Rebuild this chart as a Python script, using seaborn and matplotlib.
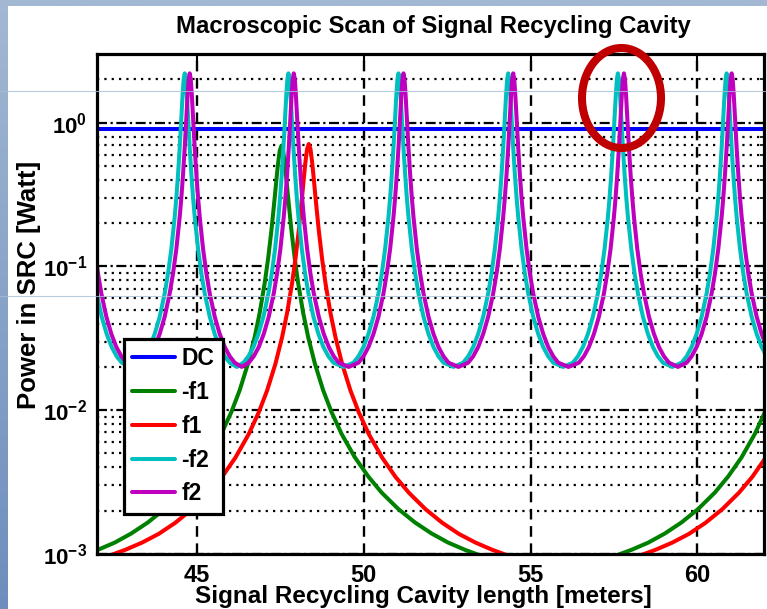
import numpy as np
import pandas as pd
import matplotlib
matplotlib.use("Agg")
import matplotlib.pyplot as plt
from matplotlib.patches import Ellipse, Rectangle
from matplotlib.lines import Line2D
from matplotlib.ticker import FixedLocator, FixedFormatter, LogLocator, NullFormatter
import seaborn as sns

# ---------------- data ----------------
SERIES = ["DC", "-f1", "f1", "-f2", "f2"]
COLORS = ["#0000FF", "#008000", "#FF0000", "#00BFBF", "#BF00BF"]

# carrier (DC) power, flat across the scan
DC_L = [42.0, 62.0]
DC_P = [0.9, 0.9]

# f2 sidebands: resonance profile around each peak (offset [m] -> power [W])
F2_HALF_OFFSETS = [0.0, 0.03, 0.06, 0.10, 0.15, 0.20, 0.25, 0.30, 0.40, 0.50,
                   0.60, 0.75, 0.90, 1.05, 1.20, 1.35]
F2_HALF_POWER = [2.2, 2.014, 1.607, 1.088, 0.669, 0.436, 0.302, 0.221, 0.1326,
                 0.0892, 0.0649, 0.0447, 0.0339, 0.0275, 0.0237, 0.0214]
NEG_F2_PEAKS = [41.39, 44.63, 47.74, 51.04, 54.33, 57.62, 60.88]
POS_F2_PEAKS = [41.53, 44.78, 47.90, 51.19, 54.48, 57.80, 61.03]
NEG_F2_TROUGHS = [43.01, 46.19, 49.39, 52.69, 55.98, 59.25]
POS_F2_TROUGHS = [43.16, 46.34, 49.55, 52.84, 56.14, 59.42]
F2_FLOOR = 0.020

# f1 sidebands: broad resonances, one period spans ~16 m
F1_HALF_OFFSETS = [0.0, 0.05, 0.10, 0.15, 0.20, 0.30, 0.40, 0.50, 0.65, 0.80,
                   1.00, 1.25, 1.50, 1.80, 2.20, 2.60, 3.00, 3.50, 4.00, 4.50,
                   5.00, 5.50, 6.00, 6.50, 7.00]
NEG_F1_HALF_POWER = [0.69, 0.639, 0.523, 0.401, 0.303, 0.178, 0.1129, 0.0769,
                     0.0478, 0.0324, 0.0212, 0.0138, 0.00973, 0.00687, 0.00471,
                     0.00347, 0.00268, 0.00206, 0.00166, 0.00139, 0.00120,
                     0.00107, 0.00097, 0.00091, 0.00086]
POS_F1_HALF_POWER = [0.71, 0.656, 0.533, 0.407, 0.305, 0.178, 0.1127, 0.0766,
                     0.0475, 0.0322, 0.0210, 0.0137, 0.00966, 0.00682, 0.00468,
                     0.00344, 0.00267, 0.00205, 0.00165, 0.00138, 0.00120,
                     0.00107, 0.00097, 0.00091, 0.00086]
NEG_F1_PEAKS = [47.53, 63.53]
POS_F1_PEAKS = [48.35, 64.25]
NEG_F1_TROUGHS = [55.53]
POS_F1_TROUGHS = [56.30]
F1_FLOOR = 0.00083

X_TICKS = [45, 50, 55, 60]
X_TICK_LABELS = ["45", "50", "55", "60"]
Y_TICKS = [1e-3, 1e-2, 1e-1, 1e0]
Y_TICK_LABELS = [r"$\mathbf{10^{-3}}$", r"$\mathbf{10^{-2}}$",
                 r"$\mathbf{10^{-1}}$", r"$\mathbf{10^{0}}$"]


def mirrored(half_offsets, half_power):
    offs = [-d for d in reversed(half_offsets[1:])] + list(half_offsets)
    pw = list(reversed(half_power[1:])) + list(half_power)
    return offs, pw


def resonance_trace(peaks, half_offsets, half_power, troughs, floor):
    offs, pw = mirrored(half_offsets, half_power)
    xs = [p + d for p in peaks for d in offs] + list(troughs)
    ys = [v for _ in peaks for v in pw] + [floor] * len(troughs)
    order = np.argsort(xs)
    return np.asarray(xs)[order], np.asarray(ys)[order]


traces = [
    (np.asarray(DC_L), np.asarray(DC_P)),
    resonance_trace(NEG_F1_PEAKS, F1_HALF_OFFSETS, NEG_F1_HALF_POWER, NEG_F1_TROUGHS, F1_FLOOR),
    resonance_trace(POS_F1_PEAKS, F1_HALF_OFFSETS, POS_F1_HALF_POWER, POS_F1_TROUGHS, F1_FLOOR),
    resonance_trace(NEG_F2_PEAKS, F2_HALF_OFFSETS, F2_HALF_POWER, NEG_F2_TROUGHS, F2_FLOOR),
    resonance_trace(POS_F2_PEAKS, F2_HALF_OFFSETS, F2_HALF_POWER, POS_F2_TROUGHS, F2_FLOOR),
]
df = pd.concat(
    [pd.DataFrame({"L": x, "P": p, "series": name}) for name, (x, p) in zip(SERIES, traces)],
    ignore_index=True,
)

# ---------------- style ----------------
sns.set_theme(style="white")
plt.rcParams["font.family"] = ["Liberation Sans", "DejaVu Sans"]
plt.rcParams["font.weight"] = "bold"
plt.rcParams["text.color"] = "black"
plt.rcParams["axes.labelcolor"] = "black"
plt.rcParams["xtick.color"] = "black"
plt.rcParams["ytick.color"] = "black"
plt.rcParams["mathtext.fontset"] = "custom"
plt.rcParams["mathtext.rm"] = "Liberation Sans"
plt.rcParams["mathtext.bf"] = "Liberation Sans:bold"

W, H = 767, 609
fig = plt.figure(figsize=(W / 100, H / 100), dpi=100)

# slide backdrop: blue gradient with a white panel
bg = fig.add_axes([0, 0, 1, 1], zorder=-10)
grad = np.linspace(0, 1, 256)[:, None]
bg.imshow(grad, aspect="auto", extent=[0, 1, 0, 1],
          cmap=matplotlib.colors.LinearSegmentedColormap.from_list("slide", ["#a3b8d2", "#6d8ebd"]))
bg.add_patch(Rectangle((8 / W, 0), 1, 1 - 6 / H, transform=bg.transAxes,
                       facecolor="white", edgecolor="none"))
bg.set_xlim(0, 1)
bg.set_ylim(0, 1)
bg.axis("off")

ax = fig.add_axes([97 / W, 55 / H, 667 / W, 500 / H])
ax.set_facecolor("white")

sns.lineplot(data=df, x="L", y="P", hue="series", hue_order=SERIES,
             palette=COLORS, linewidth=2.9, estimator=None, sort=True,
             legend=False, ax=ax)

ax.set_yscale("log")
ax.set_xlim(42, 62)
ax.set_ylim(1e-3, 3)

ax.xaxis.set_major_locator(FixedLocator(X_TICKS))
ax.xaxis.set_major_formatter(FixedFormatter(X_TICK_LABELS))
ax.yaxis.set_major_locator(FixedLocator(Y_TICKS))
ax.yaxis.set_major_formatter(FixedFormatter(Y_TICK_LABELS))
ax.yaxis.set_minor_locator(LogLocator(base=10, subs=np.arange(2, 10)))
ax.yaxis.set_minor_formatter(NullFormatter())

ax.set_axisbelow(True)
ax.grid(True, which="major", axis="x", color="black", linewidth=1.7,
        linestyle=(0, (4.5, 2.8)))
ax.grid(True, which="major", axis="y", color="black", linewidth=1.6,
        linestyle=(0, (4.5, 1.6, 1.0, 1.6)))
ax.grid(True, which="minor", axis="y", color="black", linewidth=1.6,
        linestyle=(0, (1.0, 2.3)))

ax.tick_params(axis="both", which="major", direction="in", length=6, width=1.5,
               top=True, right=True, colors="black")
ax.tick_params(axis="x", which="major", pad=7, labelsize=17)
ax.tick_params(axis="y", which="major", pad=7, labelsize=16)
ax.tick_params(axis="y", which="minor", direction="in", length=3, width=1.2, right=True)
for lab in ax.get_xticklabels() + ax.get_yticklabels():
    lab.set_fontweight("bold")

for side in ax.spines.values():
    side.set_visible(True)
    side.set_color("black")
    side.set_linewidth(2.3)

ax.set_xlabel("")
ax.set_ylabel("")
fig.text(433 / W, 1 - 27 / H, "Macroscopic Scan of Signal Recycling Cavity",
         ha="center", va="center", fontsize=17.2, fontweight="bold")
fig.text(423 / W, 1 - 596 / H, "Signal Recycling Cavity length [meters]",
         ha="center", va="center", fontsize=17.5, fontweight="bold")
fig.text(29 / W, 1 - 285 / H, "Power in SRC [Watt]", rotation=90,
         ha="center", va="center", fontsize=18.5, fontweight="bold")

handles = [Line2D([], [], color=c, linewidth=2.9) for c in COLORS]
leg = ax.legend(handles, SERIES, loc="upper left", bbox_to_anchor=(27 / 667, 215 / 500),
                borderaxespad=0, frameon=True, fancybox=False, framealpha=1,
                edgecolor="black", handlelength=1.85, handletextpad=0.3,
                labelspacing=0.47, borderpad=0.36,
                prop={"weight": "bold", "size": 16.5})
leg.get_frame().set_linewidth(2.3)

# highlight ring around one f2 resonance
fig.add_artist(Ellipse((621.5 / W, 1 - 98 / H), 79 / W, 100 / H,
                       transform=fig.transFigure, fill=False,
                       edgecolor="#C00000", linewidth=5.8, zorder=60))

# faint ruling lines of the slide
for ypix in (90.5, 296.0):
    fig.add_artist(Line2D([0, 1], [1 - ypix / H] * 2, transform=fig.transFigure,
                          color="#a9bdd6", linewidth=0.8, alpha=0.8, zorder=55))

fig.savefig("out.png", dpi=100)
